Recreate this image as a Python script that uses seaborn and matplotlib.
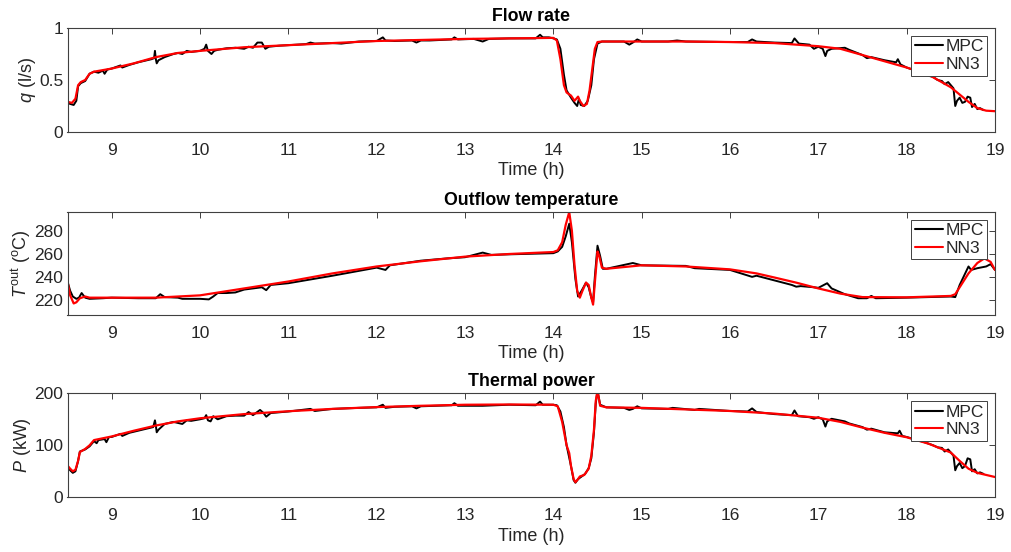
import numpy as np
import pandas as pd
import matplotlib
matplotlib.use("Agg")
import matplotlib.pyplot as plt
import seaborn as sns
from matplotlib.ticker import FixedLocator, FuncFormatter

sns.set_theme(style="white")
plt.rcParams['font.family'] = ['Liberation Sans', 'DejaVu Sans']
plt.rcParams['mathtext.fontset'] = 'custom'
plt.rcParams['mathtext.rm'] = 'Liberation Sans'
plt.rcParams['mathtext.it'] = 'Liberation Sans:italic'
plt.rcParams['mathtext.bf'] = 'Liberation Sans:bold'

# ---------------- data ----------------
titles = ["Flow rate", "Outflow temperature", "Thermal power"]
ylabels = ["$q$ (l/s)", "$T^{\\rm out}$ (${}^{\\rm o}$C)", "$P$ (kW)"]
series_names = ["MPC", "NN3"]
x_ticks = [9, 10, 11, 12, 13, 14, 15, 16, 17, 18, 19]
q_ticks = [0, 0.5, 1]
T_ticks = [220, 240, 260, 280]
P_ticks = [0, 100, 200]

q_nn3 = [(8.5, 0.29), (8.55, 0.28), (8.59, 0.32), (8.62, 0.45), (8.65, 0.48), (8.7, 0.50),
         (8.75, 0.56), (8.8, 0.58), (9.0, 0.61), (9.25, 0.66), (9.5, 0.72), (9.75, 0.76),
         (10.0, 0.78), (10.5, 0.815), (11.0, 0.835), (11.5, 0.855), (12.0, 0.875), (12.5, 0.885),
         (13.0, 0.895), (13.5, 0.90), (14.0, 0.905), (14.04, 0.88), (14.08, 0.70), (14.12, 0.45),
         (14.15, 0.38), (14.2, 0.35), (14.24, 0.30), (14.28, 0.34), (14.3, 0.30), (14.34, 0.25),
         (14.38, 0.27), (14.41, 0.40), (14.44, 0.60), (14.47, 0.80), (14.5, 0.865), (14.55, 0.87),
         (15.0, 0.87), (15.5, 0.87), (16.0, 0.865), (16.5, 0.855), (17.0, 0.825), (17.25, 0.80),
         (17.5, 0.74), (17.75, 0.68), (18.0, 0.62), (18.25, 0.55), (18.5, 0.43), (18.6, 0.36),
         (18.7, 0.29), (18.8, 0.23), (18.9, 0.205), (19.0, 0.20)]

q_mpc = [(8.5, 0.28), (8.53, 0.27), (8.57, 0.26), (8.6, 0.30), (8.62, 0.44), (8.65, 0.47), (8.7, 0.49),
         (8.75, 0.56), (8.8, 0.58), (8.85, 0.57), (8.9, 0.59), (8.92, 0.56), (8.95, 0.60), (9.0, 0.61),
         (9.1, 0.64), (9.12, 0.62), (9.2, 0.645), (9.3, 0.67), (9.4, 0.69), (9.45, 0.70), (9.48, 0.71),
         (9.49, 0.78), (9.5, 0.70), (9.51, 0.66), (9.53, 0.69), (9.6, 0.72), (9.7, 0.75), (9.75, 0.76),
         (9.8, 0.75), (9.85, 0.78), (9.9, 0.77), (10.0, 0.78), (10.05, 0.80), (10.07, 0.84), (10.09, 0.78),
         (10.13, 0.75), (10.16, 0.78), (10.2, 0.79), (10.3, 0.805), (10.4, 0.81), (10.5, 0.80),
         (10.55, 0.82), (10.6, 0.81), (10.65, 0.86), (10.7, 0.86), (10.74, 0.80), (10.78, 0.82),
         (10.9, 0.83), (11.0, 0.835), (11.2, 0.845), (11.25, 0.86), (11.3, 0.85), (11.5, 0.855),
         (11.6, 0.85), (11.8, 0.87), (12.0, 0.875), (12.07, 0.91), (12.1, 0.88), (12.2, 0.875),
         (12.4, 0.88), (12.45, 0.86), (12.5, 0.88), (12.6, 0.88), (12.85, 0.89), (12.88, 0.91),
         (12.92, 0.89), (13.1, 0.895), (13.2, 0.87), (13.27, 0.895), (13.5, 0.90), (13.8, 0.90),
         (13.85, 0.935), (13.88, 0.91), (13.95, 0.91), (14.0, 0.90), (14.04, 0.89), (14.08, 0.80),
         (14.12, 0.55), (14.15, 0.40), (14.2, 0.33), (14.24, 0.28), (14.27, 0.25), (14.29, 0.32),
         (14.31, 0.26), (14.35, 0.25), (14.39, 0.30), (14.43, 0.45), (14.46, 0.70), (14.5, 0.85),
         (14.55, 0.87), (14.8, 0.87), (14.86, 0.84), (14.9, 0.86), (14.95, 0.89), (15.0, 0.87),
         (15.3, 0.87), (15.4, 0.88), (15.5, 0.87), (16.0, 0.865), (16.2, 0.865), (16.25, 0.89),
         (16.3, 0.87), (16.5, 0.86), (16.7, 0.855), (16.73, 0.90), (16.78, 0.85), (16.9, 0.84),
         (16.95, 0.80), (17.0, 0.82), (17.05, 0.80), (17.08, 0.73), (17.1, 0.78), (17.15, 0.80),
         (17.3, 0.81), (17.35, 0.79), (17.5, 0.74), (17.55, 0.71), (17.6, 0.72), (17.75, 0.69),
         (17.88, 0.67), (17.9, 0.70), (17.93, 0.65), (18.0, 0.62), (18.2, 0.56), (18.25, 0.54),
         (18.3, 0.53), (18.35, 0.50), (18.4, 0.49), (18.43, 0.46), (18.47, 0.48), (18.5, 0.45),
         (18.53, 0.42), (18.55, 0.25), (18.57, 0.30), (18.6, 0.33), (18.63, 0.28), (18.66, 0.29),
         (18.69, 0.34), (18.72, 0.33), (18.74, 0.24), (18.77, 0.27), (18.8, 0.22), (18.83, 0.23),
         (18.87, 0.21)]

T_nn3 = [(8.5, 236), (8.53, 224), (8.57, 217), (8.6, 218), (8.64, 221.5), (8.7, 223), (8.75, 222),
         (9.0, 222), (9.5, 222), (10.0, 224), (10.5, 230), (11.0, 236), (11.5, 243), (12.0, 249),
         (12.5, 253.5), (13.0, 257.5), (13.5, 259.8), (14.0, 261.5), (14.05, 263), (14.1, 270),
         (14.14, 285), (14.18, 296), (14.21, 280), (14.24, 250), (14.27, 228), (14.3, 222),
         (14.33, 228), (14.37, 235), (14.4, 233), (14.43, 222), (14.45, 216), (14.47, 235),
         (14.5, 262), (14.52, 258), (14.55, 248), (14.6, 247), (15.0, 250), (15.5, 249),
         (16.0, 246.5), (16.3, 243), (16.5, 239.5), (16.75, 235), (17.0, 230), (17.25, 225.5),
         (17.5, 222.5), (18.0, 222.3), (18.5, 223.5), (18.55, 225), (18.6, 231), (18.7, 243),
         (18.8, 252), (18.88, 256), (18.95, 253), (19.0, 246)]

T_mpc = [(8.5, 236), (8.53, 228), (8.56, 223), (8.6, 221), (8.63, 222), (8.66, 226), (8.7, 222),
         (8.75, 221), (8.9, 221.5), (9.0, 222), (9.3, 221.5), (9.5, 221.5), (9.55, 225), (9.6, 222.5),
         (9.75, 222), (9.8, 221), (10.0, 221), (10.1, 220.5), (10.15, 223), (10.2, 226), (10.3, 226),
         (10.4, 226.5), (10.5, 229), (10.6, 230), (10.7, 231), (10.75, 228.5), (10.8, 233),
         (11.0, 234.5), (11.5, 241), (12.0, 248), (12.1, 246), (12.15, 250), (12.5, 254), (12.8, 256),
         (13.0, 257), (13.2, 261), (13.3, 259), (13.5, 259.5), (14.0, 260.5), (14.05, 262),
         (14.1, 266), (14.14, 275), (14.18, 286), (14.21, 270), (14.25, 238), (14.28, 223),
         (14.32, 228), (14.37, 235), (14.4, 231), (14.43, 222), (14.45, 218), (14.47, 240),
         (14.5, 267), (14.53, 258), (14.56, 247), (14.6, 247), (14.9, 252), (15.0, 250),
         (15.5, 249.5), (15.6, 247.5), (16.0, 246), (16.25, 240), (16.3, 241), (16.5, 237),
         (16.7, 233), (16.75, 231.5), (16.8, 232), (16.95, 231), (17.0, 230.5), (17.1, 234.5),
         (17.15, 230), (17.3, 225), (17.45, 221.5), (17.55, 221.5), (17.6, 223.5), (17.65, 221.5),
         (18.0, 222), (18.5, 223), (18.55, 222.5), (18.6, 233), (18.7, 249), (18.73, 246),
         (18.8, 247.5), (18.9, 249), (18.95, 251), (19.0, 246)]

P_nn3 = [(8.5, 61), (8.53, 55), (8.56, 50), (8.59, 53), (8.62, 70), (8.64, 87), (8.7, 93), (8.75, 100),
         (8.8, 110), (9.0, 117), (9.25, 128), (9.5, 138), (9.75, 146), (10.0, 152), (10.5, 160),
         (11.0, 165.5), (11.5, 170), (12.0, 173.5), (12.5, 176), (13.0, 178), (13.5, 178.5),
         (14.0, 178), (14.05, 175), (14.1, 145), (14.15, 100), (14.18, 85), (14.2, 60), (14.23, 35),
         (14.25, 29), (14.28, 35), (14.3, 40), (14.35, 43), (14.4, 55), (14.43, 80), (14.46, 130),
         (14.48, 185), (14.5, 205), (14.53, 176), (14.6, 173), (15.0, 172), (15.5, 169), (16.0, 166),
         (16.5, 161), (17.0, 153), (17.25, 145), (17.5, 134), (17.75, 124), (18.0, 115.5),
         (18.25, 103), (18.5, 86), (18.6, 70), (18.7, 55), (18.8, 47), (18.9, 43), (19.0, 39)]

P_mpc = [(8.5, 60), (8.53, 52), (8.56, 47), (8.59, 50), (8.62, 70), (8.64, 88), (8.7, 92), (8.75, 98),
         (8.8, 108), (8.83, 104), (8.85, 110), (8.92, 112), (8.94, 106), (8.97, 116), (9.0, 116),
         (9.1, 122), (9.12, 118), (9.2, 124), (9.3, 128), (9.4, 132), (9.47, 135), (9.49, 148),
         (9.5, 138), (9.51, 125), (9.53, 130), (9.6, 141), (9.7, 145), (9.75, 143), (9.8, 141),
         (9.85, 148), (9.9, 147), (10.0, 150), (10.05, 152), (10.07, 158), (10.09, 148), (10.12, 146),
         (10.15, 156), (10.2, 150), (10.3, 156), (10.4, 157), (10.5, 157), (10.55, 164), (10.6, 158),
         (10.68, 168), (10.72, 162), (10.75, 155), (10.8, 162), (11.0, 165), (11.25, 170),
         (11.3, 166), (11.5, 170), (11.8, 172), (12.0, 173), (12.07, 178), (12.1, 172), (12.2, 174),
         (12.4, 175), (12.45, 171), (12.5, 175), (12.85, 177), (12.88, 181), (12.92, 176),
         (13.2, 176), (13.5, 178), (13.8, 177), (13.85, 184), (13.88, 178), (14.0, 178),
         (14.04, 177), (14.08, 165), (14.12, 135), (14.15, 100), (14.2, 60), (14.23, 33),
         (14.25, 28), (14.28, 35), (14.32, 40), (14.36, 45), (14.4, 56), (14.43, 75), (14.46, 125),
         (14.48, 180), (14.5, 205), (14.53, 178), (14.6, 173), (14.8, 172), (14.86, 168),
         (14.9, 170), (14.95, 175), (15.0, 171), (15.3, 170), (15.35, 172), (15.6, 168),
         (15.65, 170), (16.0, 166), (16.2, 165), (16.25, 171), (16.3, 164), (16.5, 160), (16.7, 158),
         (16.73, 167), (16.77, 156), (16.9, 154), (16.95, 151), (17.0, 154), (17.05, 150),
         (17.08, 136), (17.1, 146), (17.15, 151), (17.3, 146), (17.35, 142), (17.5, 135),
         (17.55, 130), (17.6, 132), (17.75, 125), (17.9, 123), (17.92, 128), (17.95, 118),
         (18.0, 116), (18.2, 106), (18.25, 103), (18.3, 100), (18.35, 96), (18.4, 95), (18.43, 88),
         (18.47, 92), (18.5, 86), (18.53, 80), (18.55, 52), (18.57, 60), (18.6, 66), (18.63, 56),
         (18.66, 60), (18.69, 75), (18.72, 73), (18.74, 50), (18.77, 54), (18.8, 46), (18.83, 48),
         (18.87, 45)]

panels = [
    (q_mpc, q_nn3, q_ticks, (0, 1)),
    (T_mpc, T_nn3, T_ticks, (207, 296.4)),
    (P_mpc, P_nn3, P_ticks, (0, 200)),
]

# ---------------- figure ----------------
W, H = 1011, 552
fig = plt.figure(figsize=(W / 100, H / 100), dpi=100)

# axes boxes in pixels: (left, top, right, bottom)
boxes = [(67.5, 28, 995, 132), (67.5, 211.7, 995, 315), (67.5, 393.3, 995, 497.3)]
txt_col = '#262626'
colors = {"MPC": "black", "NN3": "red"}
lw = {"MPC": 1.4, "NN3": 1.6}

for i, (mpc, nn3, yt, ylim) in enumerate(panels):
    l, t, r, b = boxes[i]
    ax = fig.add_axes([l / W, 1 - b / H, (r - l) / W, (b - t) / H])
    frames = []
    for name, pts in zip(series_names, [mpc, nn3]):
        arr = np.array(pts)
        frames.append(pd.DataFrame({"t": arr[:, 0], "v": arr[:, 1], "s": name}))
    df = pd.concat(frames, ignore_index=True)
    sns.lineplot(data=df, x="t", y="v", hue="s", palette=colors, sort=False,
                 estimator=None, linewidth=1.5, ax=ax)
    for line, name in zip(ax.get_lines(), series_names):
        line.set_linewidth(lw[name])
    ax.set_xlim(8.5, 19)
    ax.set_ylim(*ylim)
    ax.xaxis.set_major_locator(FixedLocator(x_ticks))
    ax.yaxis.set_major_locator(FixedLocator(yt))
    ax.yaxis.set_major_formatter(FuncFormatter(lambda v, p: f"{v:g}"))
    ax.tick_params(direction='in', length=4.5, width=0.7, color='#404040',
                   top=True, right=True, labelsize=12.5, labelcolor=txt_col, pad=8)
    ax.tick_params(axis='y', pad=3)
    for sp in ax.spines.values():
        sp.set_color('#404040')
        sp.set_linewidth(0.8)
    ax.set_xlabel("Time (h)", fontsize=13, color=txt_col, labelpad=3)
    ax.set_ylabel(ylabels[i], fontsize=13, color=txt_col, labelpad=1)
    ax.set_title(titles[i], fontsize=12.8, fontweight='bold', color='black', pad=5)
    leg = ax.legend(loc='upper right', fontsize=12.5, frameon=True, fancybox=False,
                    framealpha=1, edgecolor='#404040', handlelength=1.6,
                    handletextpad=0.15, borderpad=0.2, labelspacing=0.15,
                    borderaxespad=0.45)
    leg.get_frame().set_linewidth(0.7)
    for txt in leg.get_texts():
        txt.set_color(txt_col)

fig.savefig("out.png", dpi=100)
